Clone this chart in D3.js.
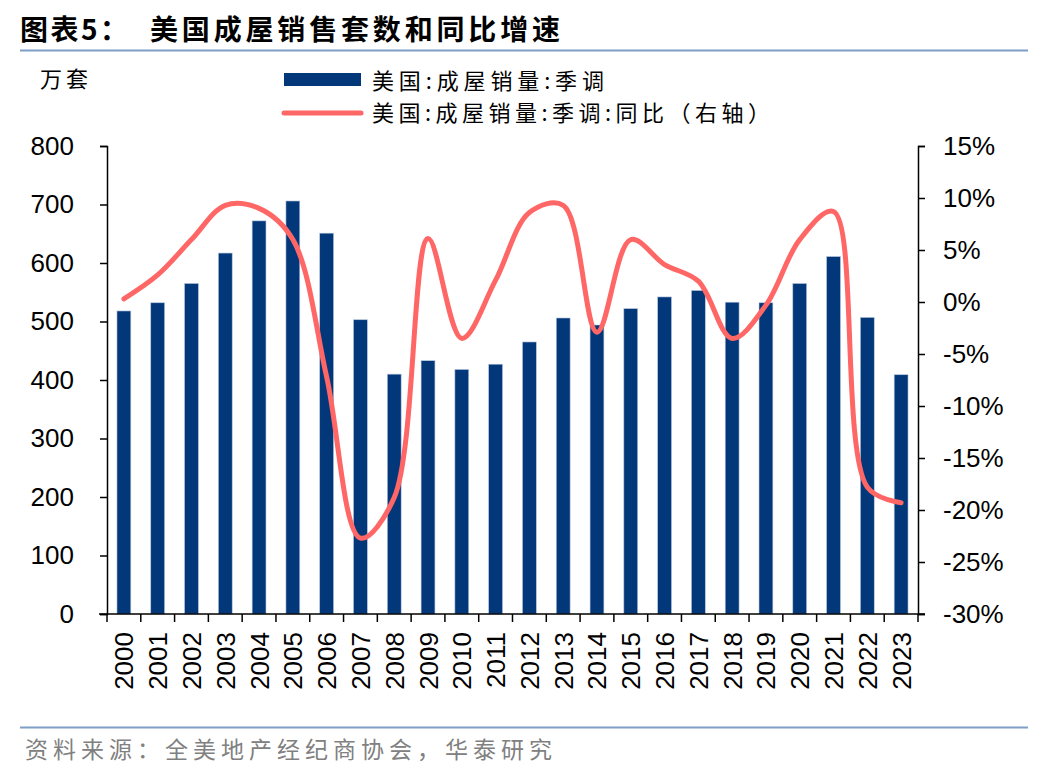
<!DOCTYPE html>
<html>
<head>
<meta charset="utf-8">
<script src="https://cdn.jsdelivr.net/npm/d3@7"></script>
<style>
  body { margin: 0; background: #fff; }
  svg text { font-family: "Liberation Sans", Arial, sans-serif; }
  .cjk { font-family: "Noto Sans CJK SC", sans-serif; }
</style>
</head>
<body>
<svg id="chart" width="1048" height="780"></svg>
<script>
// data
const years = ['2000','2001','2002','2003','2004','2005','2006','2007','2008','2009','2010','2011',
               '2012','2013','2014','2015','2016','2017','2018','2019','2020','2021','2022','2023'];
const sales = [518, 532, 565, 617, 672, 706, 651, 503, 410, 433, 418, 427,
               465, 506, 494, 522, 542, 553, 533, 532, 565, 611, 507, 409];
const yoy = [0.3, 2.6, 6.0, 9.3, 9.0, 6.0, -7.2, -22.7, -18.8, 6.1, -3.5, 2.1,
             8.6, 9.3, -2.9, 6.0, 3.6, 2.0, -3.5, -0.3, 6.0, 8.7, -17.8, -19.3];
const leftTicks = [0, 100, 200, 300, 400, 500, 600, 700, 800];
const rightTicks = [-30, -25, -20, -15, -10, -5, 0, 5, 10, 15];

const svg = d3.select('#chart');
const margin = { left: 107, right: 918, top: 146, bottom: 614 };

const x = d3.scaleBand()
    .domain(years)
    .range([margin.left, margin.right])
    .paddingInner(0.59)
    .paddingOuter(0.295);

const xBand = d3.scaleBand().domain(years).range([margin.left, margin.right]);

const yLeft = d3.scaleLinear().domain([0, 800]).range([margin.bottom, margin.top]);
const yRight = d3.scaleLinear().domain([-30, 15]).range([margin.bottom, margin.top]);

// title
svg.append('text')
    .attr('class', 'cjk')
    .attr('x', 20).attr('y', 40)
    .attr('font-size', 28).attr('font-weight', 'bold')
    .attr('fill', '#000')
    .attr('textLength', 108).attr('lengthAdjust', 'spacing')
    .text('图表5：');
svg.append('text')
    .attr('class', 'cjk')
    .attr('x', 150).attr('y', 40)
    .attr('font-size', 28).attr('font-weight', 'bold')
    .attr('fill', '#000')
    .attr('textLength', 410).attr('lengthAdjust', 'spacing')
    .text('美国成屋销售套数和同比增速');

svg.append('line')
    .attr('x1', 20).attr('x2', 1028)
    .attr('y1', 50.5).attr('y2', 50.5)
    .attr('stroke', '#7f9dc6').attr('stroke-width', 2);

// bars
svg.append('g')
    .selectAll('rect')
    .data(sales)
    .enter()
    .append('rect')
    .attr('x', (d, i) => x(years[i]))
    .attr('width', x.bandwidth())
    .attr('y', d => yLeft(d))
    .attr('height', d => yLeft(0) - yLeft(d))
    .attr('fill', '#02387a')
    .attr('stroke', '#b7c6dc')
    .attr('stroke-width', 0.6);

// line
const line = d3.line()
    .x((d, i) => xBand(years[i]) + xBand.bandwidth() / 2)
    .y(d => yRight(d))
    .curve(d3.curveCatmullRom.alpha(0.5));

svg.append('path')
    .datum(yoy)
    .attr('d', line)
    .attr('fill', 'none')
    .attr('stroke', '#ff6666')
    .attr('stroke-width', 5)
    .attr('stroke-linecap', 'round');

// left axis
const leftAxis = d3.axisLeft(yLeft).tickValues(leftTicks).tickSize(7).tickPadding(26);
const gl = svg.append('g')
    .attr('transform', `translate(${margin.left},0)`)
    .call(leftAxis);
gl.select('.domain').attr('stroke', '#000').attr('stroke-width', 1.5);
gl.selectAll('line').attr('stroke', '#000').attr('stroke-width', 1.5);
gl.selectAll('text').attr('font-size', 26).attr('fill', '#000')
    .attr('font-family', '"Liberation Sans", Arial, sans-serif');

// right axis
const rightAxis = d3.axisRight(yRight).tickValues(rightTicks).tickSize(7)
    .tickPadding(18).tickFormat(d => d + '%');
const gr = svg.append('g')
    .attr('transform', `translate(${margin.right},0)`)
    .call(rightAxis);
gr.select('.domain').attr('stroke', '#000').attr('stroke-width', 1.5);
gr.selectAll('line').attr('stroke', '#000').attr('stroke-width', 1.5);
gr.selectAll('text').attr('font-size', 26).attr('fill', '#000')
    .attr('font-family', '"Liberation Sans", Arial, sans-serif');

// x axis baseline and ticks at band boundaries
const gx = svg.append('g');
gx.append('line')
    .attr('x1', margin.left - 8).attr('x2', margin.right + 7)
    .attr('y1', margin.bottom).attr('y2', margin.bottom)
    .attr('stroke', '#000').attr('stroke-width', 1.5);
gx.selectAll('line.tick')
    .data(years.concat(['end']))
    .enter()
    .append('line')
    .attr('class', 'tick')
    .attr('x1', (d, i) => margin.left + i * xBand.bandwidth())
    .attr('x2', (d, i) => margin.left + i * xBand.bandwidth())
    .attr('y1', margin.bottom).attr('y2', margin.bottom + 8)
    .attr('stroke', '#000').attr('stroke-width', 1.5);
gx.selectAll('text')
    .data(years)
    .enter()
    .append('text')
    .attr('transform', d => `translate(${xBand(d) + xBand.bandwidth() / 2 + 9.5},632) rotate(-90)`)
    .attr('text-anchor', 'end')
    .attr('font-size', 26)
    .attr('fill', '#000')
    .text(d => d);

// unit label
svg.append('text')
    .attr('class', 'cjk')
    .attr('x', 40).attr('y', 87)
    .attr('font-size', 22).attr('fill', '#000')
    .attr('textLength', 48).attr('lengthAdjust', 'spacing')
    .text('万套');

// legend
const legend = svg.append('g');
legend.append('rect')
    .attr('x', 284).attr('y', 73).attr('width', 77).attr('height', 13)
    .attr('fill', '#02387a');
legend.append('text')
    .attr('class', 'cjk')
    .attr('x', 372).attr('y', 89)
    .attr('font-size', 22).attr('fill', '#000')
    .attr('textLength', 232).attr('lengthAdjust', 'spacing')
    .text('美国:成屋销量:季调');
legend.append('line')
    .attr('x1', 284).attr('x2', 361).attr('y1', 113).attr('y2', 113)
    .attr('stroke', '#ff6666').attr('stroke-width', 5)
    .attr('stroke-linecap', 'round');
legend.append('text')
    .attr('class', 'cjk')
    .attr('x', 372).attr('y', 121)
    .attr('font-size', 22).attr('fill', '#000')
    .attr('textLength', 398).attr('lengthAdjust', 'spacing')
    .text('美国:成屋销量:季调:同比（右轴）');

// footer
svg.append('line')
    .attr('x1', 20).attr('x2', 1028)
    .attr('y1', 727.5).attr('y2', 727.5)
    .attr('stroke', '#7f9dc6').attr('stroke-width', 2);
svg.append('text')
    .attr('class', 'cjk')
    .attr('x', 25).attr('y', 758)
    .attr('font-size', 23).attr('fill', '#808080')
    .attr('textLength', 527).attr('lengthAdjust', 'spacing')
    .text('资料来源：全美地产经纪商协会，华泰研究');
</script>
</body>
</html>
